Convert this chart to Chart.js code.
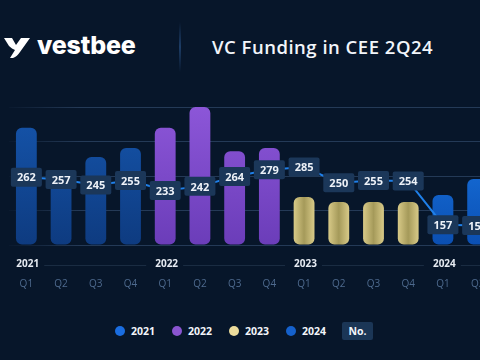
<!DOCTYPE html>
<html>
<head>
<meta charset="utf-8">
<script src="https://cdn.jsdelivr.net/npm/chart.js@4"></script>
<style>
  html, body { margin: 0; padding: 0; width: 480px; height: 360px; overflow: hidden; background: #07162a; font-family: "Open Sans", sans-serif; }
  #logo { position: absolute; left: 3px; top: 30px; height: 34px; display: flex; align-items: center; color: #fff; }
  #logo span { font-family: Inter, sans-serif; font-weight: 800; font-size: 25px; letter-spacing: -0.2px; margin-left: 6px; margin-top: -4px; }
  #sep { position: absolute; left: 179px; top: 22px; width: 2px; height: 50px; background: linear-gradient(#07162a, #1d3d66 50%, #07162a); }
  #title { position: absolute; left: 212px; top: 34px; color: #f2f5fa; font-size: 18.5px; font-weight: 600; letter-spacing: 0.5px; }
  #wrap { position: absolute; left: 0; top: 90px; width: 500px; height: 210px; }
  #legend { position: absolute; top: 322px; left: 115px; display: flex; align-items: center; color: #f2f5fa; font-weight: 700; font-size: 10.5px; }
  .item { display: flex; align-items: center; width: 57px; }
  .dot { width: 10px; height: 10px; border-radius: 50%; margin-right: 6px; }
  .box { background: #1b3656; width: 31px; text-align: center; border-radius: 2px; height: 18px; line-height: 18px; margin-left: -1px; }
</style>
</head>
<body>
<div id="logo">
  <svg width="28" height="24" viewBox="0 0 28 24">
    <path d="M1 3 L9 3 L13 10 L18 3 L27 3 L17 17 C15 20 13 22 10 23 L7 23 L12 15 C10 14 8 13 6 11 Z" fill="#ffffff"/>
  </svg>
  <span>vestbee</span>
</div>
<div id="sep"></div>
<div id="title">VC Funding in CEE 2Q24</div>
<div id="wrap"><canvas id="chart"></canvas></div>
<div id="legend"></div>
<script>
const quarters = ['Q1', 'Q2', 'Q3', 'Q4', 'Q1', 'Q2', 'Q3', 'Q4', 'Q1', 'Q2', 'Q3', 'Q4', 'Q1', 'Q2'];
const years = ['2021', '2021', '2021', '2021', '2022', '2022', '2022', '2022', '2023', '2023', '2023', '2023', '2024', '2024'];
const funding = [1700, 1045, 1275, 1405, 1700, 2000, 1360, 1405, 695, 625, 625, 625, 725, 955];
const deals = [262, 257, 245, 255, 233, 242, 264, 279, 285, 250, 255, 254, 157, 155];
const legendYears = ['2021', '2022', '2023', '2024'];

const yearColors = {
    '2021': ['#1555ac', '#0e3b80'],
    '2022': ['#8c56d8', '#6b3db9'],
    '2023': ['#d8ca88', '#a59a5a'],
    '2024': ['#1b7dec', '#0b4fb2']
};
const dotColors = { '2021': '#1a6de0', '2022': '#8a55d0', '2023': '#ecdc9c', '2024': '#1561cc' };

// legend
const legend = document.getElementById('legend');
legendYears.forEach(y => {
    const it = document.createElement('div');
    it.className = 'item';
    it.innerHTML = '<div class="dot" style="background:' + dotColors[y] + '"></div>' + y;
    legend.appendChild(it);
});
const no = document.createElement('div');
no.className = 'box';
no.textContent = 'No.';
legend.appendChild(no);

function barColor(ctx) {
    const chart = ctx.chart;
    const area = chart.chartArea;
    const y = years[ctx.dataIndex];
    const c = yearColors[y];
    if (!area || !isFinite(area.top)) return c[0];
    if (y === '2023') {
        const cx = chart.scales.x.getPixelForValue(ctx.dataIndex);
        const bw = (area.right - area.left) / quarters.length * 0.6;
        if (!isFinite(cx)) return c[0];
        const g = chart.ctx.createLinearGradient(cx - bw / 2, 0, cx + bw / 2, 0);
        g.addColorStop(0, c[0]);
        g.addColorStop(0.5, c[1]);
        g.addColorStop(1, c[0]);
        return g;
    }
    const g = chart.ctx.createLinearGradient(0, area.top, 0, area.bottom);
    g.addColorStop(0, c[0]);
    g.addColorStop(1, c[1]);
    return g;
}

function gridColor(ctx) {
    const g = ctx.chart.ctx.createLinearGradient(0, 0, 80, 0);
    g.addColorStop(0, 'rgba(40,62,92,0)');
    g.addColorStop(1, 'rgba(40,62,92,0.9)');
    return g;
}

/* --- boxes with number of deals --- */
const dealBoxes = {
    id: 'dealBoxes',
    afterDatasetsDraw(chart) {
        const ctx = chart.ctx;
        const meta = chart.getDatasetMeta(1);
        ctx.save();
        ctx.font = 'bold 11px "Open Sans", sans-serif';
        ctx.textAlign = 'center';
        ctx.textBaseline = 'middle';
        meta.data.forEach((p, i) => {
            const w = 31, h = 19;
            ctx.fillStyle = '#1b3759';
            ctx.beginPath();
            ctx.roundRect(p.x - w / 2, p.y - h / 2, w, h, 2);
            ctx.fill();
            ctx.fillStyle = '#eef2f8';
            ctx.fillText(String(deals[i]), p.x, p.y + 1);
        });
        ctx.restore();
    }
};

/* --- year labels with thin line --- */
const yearRow = {
    id: 'yearRow',
    afterDraw(chart) {
        const ctx = chart.ctx;
        const x = chart.scales.x;
        const yy = chart.chartArea.bottom + 19;
        ctx.save();
        ctx.font = 'bold 10px "Open Sans", sans-serif';
        ctx.textBaseline = 'middle';
        const starts = [];
        years.forEach((y, i) => { if (i === 0 || years[i - 1] !== y) starts.push(i); });
        starts.forEach((s, k) => {
            const lx = x.getPixelForValue(s) - 10;
            ctx.fillStyle = '#e6ebf2';
            ctx.fillText(years[s], lx, yy);
            const tw = ctx.measureText(years[s]).width;
            const end = k + 1 < starts.length ? x.getPixelForValue(starts[k + 1]) - 19 : chart.width;
            ctx.strokeStyle = '#1a2c42';
            ctx.lineWidth = 1;
            ctx.beginPath();
            ctx.moveTo(lx + tw + 5, yy + 1.5);
            ctx.lineTo(end, yy + 1.5);
            ctx.stroke();
        });
        ctx.restore();
    }
};

new Chart(document.getElementById('chart'), {
    data: {
        labels: quarters,
        datasets: [
            {
                type: 'bar',
                data: funding,
                backgroundColor: barColor,
                borderRadius: 6,
                borderSkipped: false,
                barPercentage: 0.6,
                categoryPercentage: 1,
                yAxisID: 'y',
                order: 2
            },
            {
                type: 'line',
                data: deals,
                borderColor: '#1f80ea',
                borderWidth: 2,
                pointRadius: 0,
                tension: 0,
                yAxisID: 'y2',
                order: 1
            }
        ]
    },
    options: {
        responsive: true,
        maintainAspectRatio: false,
        animation: false,
        layout: { padding: { left: 9, right: 5, top: 17, bottom: 0 } },
        plugins: { legend: { display: false }, tooltip: { enabled: false } },
        scales: {
            x: {
                grid: { display: false, drawTicks: false },
                border: { display: false },
                ticks: { color: '#4e6a8e', font: { size: 10, weight: '500', family: '"Open Sans", sans-serif' }, padding: 33 },
                afterFit: s => { s.height = 55; s.paddingLeft = 0; s.paddingRight = 0; }
            },
            y: {
                min: 0,
                max: 2000,
                ticks: { display: false, stepSize: 500 },
                border: { display: false },
                grid: { color: gridColor, drawTicks: false, lineWidth: 1 },
                afterFit: s => { s.width = 0; }
            },
            y2: {
                display: false,
                min: 112,
                max: 418
            }
        }
    },
    plugins: [dealBoxes, yearRow]
});
</script>
</body>
</html>
